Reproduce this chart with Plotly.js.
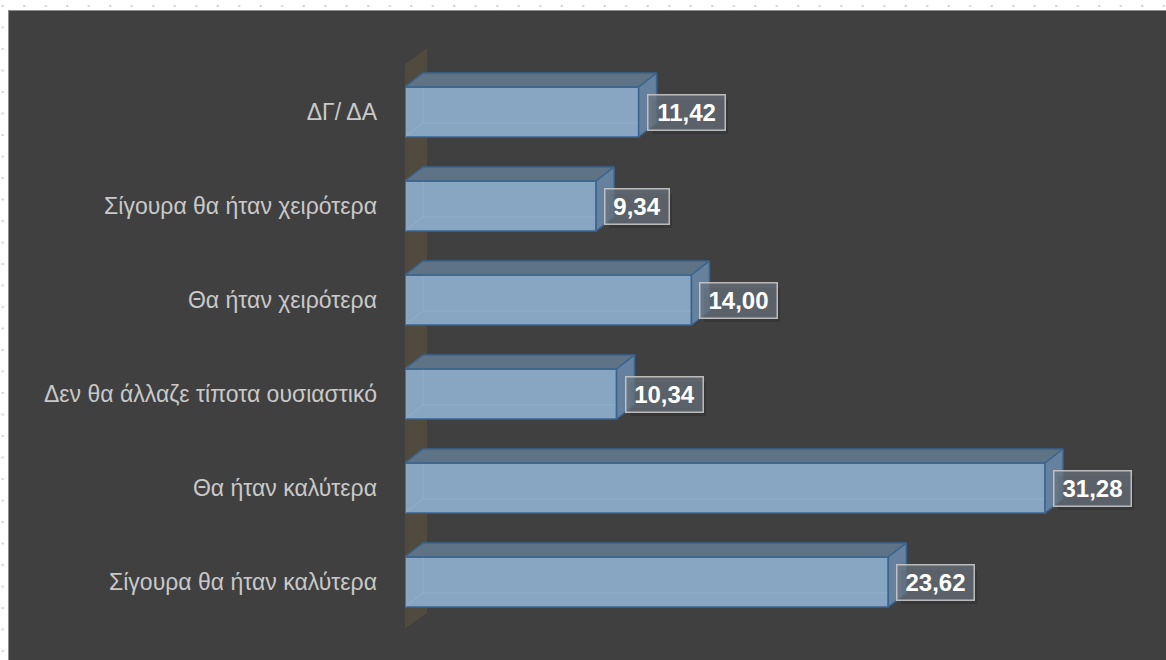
<!DOCTYPE html>
<html>
<head>
<meta charset="utf-8">
<script src="https://cdn.plot.ly/plotly-3.0.1.min.js"></script>
<style>
  html, body { margin:0; padding:0; width:1166px; height:660px; overflow:hidden; background:#ffffff; }
  body {
    background-image: radial-gradient(circle, #dccfcf 1px, rgba(255,255,255,0) 1.6px);
    background-size: 21.5px 21.5px;
    background-position: -8px -4.75px;
  }
  #panel { position:absolute; left:8px; top:10px; width:1158px; height:650px; background:#404040;
           border-top:1px solid #8c8c8c; border-left:1px solid #8c8c8c; box-sizing:border-box; }
  #chart { position:absolute; left:0; top:0; width:1157px; height:649px; }
</style>
</head>
<body>
<div id="panel"><div id="chart"></div></div>
<script>
// Data (top to bottom as shown)
const categories = [
  "ΔΓ/ ΔΑ",
  "Σίγουρα θα ήταν χειρότερα",
  "Θα ήταν χειρότερα",
  "Δεν θα άλλαζε τίποτα ουσιαστικό",
  "Θα ήταν καλύτερα",
  "Σίγουρα θα ήταν καλύτερα"
];
const values = [11.42, 9.34, 14.00, 10.34, 31.28, 23.62];

// Styling constants
const n = categories.length;
const ypos = categories.map((c, i) => n - 1 - i);
const H = 0.266;      // half bar thickness (y units)
const DX = 0.88;      // 3D depth in x units
const DY = 0.149;     // 3D depth in y units
const frontColor = '#88a5c1';
const topColor = '#5f7386';
const sideColor = '#65819d';
const edgeColor = '#3a6490';
const fmt = v => v.toFixed(2).replace('.', ',');

const traces = [];
// front faces
traces.push({
  type: 'bar', orientation: 'h', x: values, y: ypos, width: 2 * H,
  marker: { color: frontColor, line: { color: edgeColor, width: 1.5 } },
  hoverinfo: 'skip', showlegend: false
});
// faint back edges (transparent box look)
values.forEach((v, i) => {
  const y = ypos[i];
  traces.push({
    type: 'scatter', mode: 'lines', hoverinfo: 'skip', showlegend: false,
    x: [0, DX, DX, null, DX, v + DX],
    y: [y - H, y - H + DY, y + H, null, y - H + DY, y - H + DY],
    line: { color: 'rgba(190,215,240,0.22)', width: 1 }
  });
});
// top faces
values.forEach((v, i) => {
  const y = ypos[i];
  traces.push({
    type: 'scatter', mode: 'lines', fill: 'toself', hoverinfo: 'skip', showlegend: false,
    x: [0, v, v + DX, DX, 0],
    y: [y + H, y + H, y + H + DY, y + H + DY, y + H],
    fillcolor: topColor, line: { color: edgeColor, width: 1.5 }
  });
});
// side faces
values.forEach((v, i) => {
  const y = ypos[i];
  traces.push({
    type: 'scatter', mode: 'lines', fill: 'toself', hoverinfo: 'skip', showlegend: false,
    x: [v, v + DX, v + DX, v, v],
    y: [y - H, y - H + DY, y + H + DY, y + H, y - H],
    fillcolor: sideColor, line: { color: edgeColor, width: 1.5 }
  });
});

const annotations = [];
values.forEach((v, i) => {
  const t = fmt(v);
  const w = 13 * t.length + 7;
  // soft shadow box (no text)
  annotations.push({
    x: v, y: ypos[i], xref: 'x', yref: 'y', xanchor: 'left', yanchor: 'middle',
    xshift: 13, yshift: -5, text: '\u00a0', showarrow: false,
    width: w, height: 30, borderpad: 2, borderwidth: 0,
    bgcolor: 'rgba(0,0,0,0.13)', font: { size: 24, color: 'rgba(0,0,0,0)' }
  });
  annotations.push({
    x: v, y: ypos[i], xref: 'x', yref: 'y', xanchor: 'left', yanchor: 'middle',
    xshift: 8, text: t, showarrow: false,
    width: w, height: 30, borderpad: 2, borderwidth: 1.5,
    bordercolor: 'rgba(200,200,200,0.9)', bgcolor: 'rgba(105,115,125,0.7)',
    font: { family: 'Liberation Sans, Arial, sans-serif', size: 24, color: '#ffffff', weight: 'bold' }
  });
});

const layout = {
  width: 1157, height: 649,
  margin: { l: 396, r: 41, t: 29, b: 20 },
  paper_bgcolor: '#404040', plot_bgcolor: 'rgba(0,0,0,0)',
  showlegend: false,
  xaxis: { range: [0, 35.19], visible: false, fixedrange: true },
  yaxis: {
    range: [-0.617, 5.766], tickvals: ypos, ticktext: categories,
    showgrid: false, zeroline: false, showline: false, ticks: '',
    ticklabelstandoff: 27,
    tickfont: { family: 'Liberation Sans, Arial, sans-serif', size: 23, color: '#c9c9c9' },
    fixedrange: true
  },
  shapes: [{
    type: 'path', xref: 'x', yref: 'y', layer: 'below',
    path: 'M -0.244,-0.532 L -0.244,5.468 L 1.075,5.681 L 1.075,-0.330 Z',
    fillcolor: '#504a3f', line: { width: 0 }
  }],
  annotations: annotations
};

Plotly.newPlot('chart', traces, layout, { displayModeBar: false, staticPlot: true });
</script>
</body>
</html>
